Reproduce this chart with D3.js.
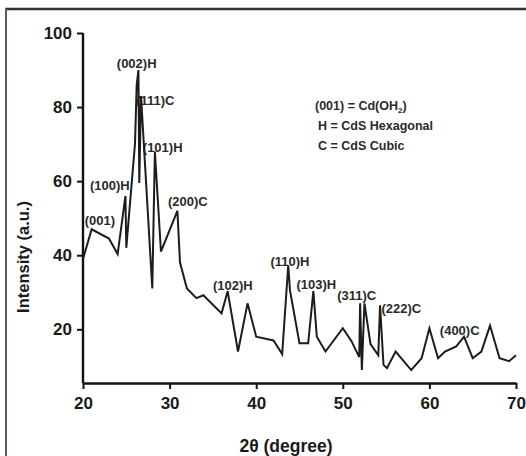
<!DOCTYPE html>
<html>
<head>
<meta charset="utf-8">
<script src="https://cdn.jsdelivr.net/npm/d3@7"></script>
<style>
  html, body { margin: 0; padding: 0; background: #fff; }
  svg { display: block; font-family: "Liberation Sans", Arial, sans-serif; }
</style>
</head>
<body>
<script>
// XRD pattern, 2θ vs intensity
const twoTheta = [20.0, 21.0, 23.0, 24.0, 24.9, 25.0, 26.0, 26.2, 26.4, 26.5, 26.7, 28.0, 28.3, 29.0,
  30.9, 31.2, 32.0, 33.1, 33.9, 36.0, 36.7, 37.9, 39.0, 40.0, 42.0, 43.0, 43.7, 43.9, 45.0, 46.0,
  46.6, 47.0, 48.0, 50.0, 51.0, 51.9, 52.0, 52.2, 52.5, 53.2, 54.1, 54.3, 54.7, 55.1, 56.1, 57.9,
  59.1, 60.0, 61.0, 61.8, 63.1, 64.0, 65.0, 66.0, 67.0, 68.1, 69.2, 70.0]
const intensity = [39, 47, 44.5, 40.3, 56, 42, 70, 86, 90, 59.5, 83, 31, 68, 41,
  52, 38, 31, 28.4, 29.2, 24.3, 30.3, 14, 27, 18, 17, 13.3, 37.3, 30.5, 16.2, 16.2,
  30.3, 18, 14, 20.3, 16.8, 12.5, 27, 9, 27, 16, 13, 26.5, 10.4, 9.5, 14, 9,
  12.2, 20.3, 12.2, 14, 15.4, 18, 12.2, 14, 21, 12.2, 11.4, 13]

// peak labels: text, 2θ, intensity where the label sits
const peakNames = ["(001)", "(100)H", "(002)H", "(111)C", "(101)H", "(200)C", "(102)H", "(110)H", "(103)H", "(311)C", "(222)C", "(400)C"]
const peakX = [21.95, 23.1, 26.2, 28.35, 29.2, 32.1, 37.3, 43.9, 46.95, 51.6, 56.75, 63.5]
const peakY = [49.3, 58.7, 91.9, 81.9, 69.2, 54.4, 31.7, 38.2, 32, 29, 25.5, 19.8]

const xTicks = [20, 30, 40, 50, 60, 70]
const yTicks = [20, 40, 60, 80, 100]

const W = 526, H = 456

const svg = d3.select("body").append("svg")
  .attr("width", W)
  .attr("height", H)

// frame of the figure
svg.append("line")
  .attr("x1", 5).attr("x2", W).attr("y1", 9).attr("y2", 9)
  .attr("stroke", "#333").attr("stroke-width", 2.5)
svg.append("line")
  .attr("x1", 6).attr("x2", 6).attr("y1", 8).attr("y2", H)
  .attr("stroke", "#4f625e").attr("stroke-width", 2)

const x = d3.scaleLinear().domain([20, 70]).range([83, 516])
const y = d3.scaleLinear().domain([5.5, 100]).range([383, 33])

// axes
const xAxis = svg.append("g")
  .attr("transform", "translate(0," + y(5.5) + ")")
  .call(d3.axisBottom(x).tickValues(xTicks).tickSize(6).tickPadding(8).tickSizeOuter(0))
const yAxis = svg.append("g")
  .attr("transform", "translate(" + x(20) + ",0)")
  .call(d3.axisLeft(y).tickValues(yTicks).tickSize(6).tickPadding(5).tickSizeOuter(0))

;[xAxis, yAxis].forEach(ax => {
  ax.select(".domain").attr("stroke", "#111").attr("stroke-width", 2.4)
  ax.selectAll(".tick line").attr("stroke", "#111").attr("stroke-width", 2)
  ax.selectAll(".tick text")
    .attr("fill", "#1a1a1a")
    .style("font-size", "17px")
    .style("font-weight", "bold")
    .style("font-family", "'Liberation Sans', Arial, sans-serif")
})
// y axis runs from 100 down to the x axis
yAxis.select(".domain").attr("d", "M0," + y(100) + "V" + y(5.5))

// axis titles
svg.append("text")
  .attr("transform", "translate(23," + 257 + ") rotate(-90)")
  .attr("text-anchor", "middle")
  .attr("dominant-baseline", "central")
  .style("font-size", "16.5px")
  .style("font-weight", "bold")
  .attr("fill", "#1a1a1a")
  .text("Intensity (a.u.)")

svg.append("text")
  .attr("x", 286)
  .attr("y", 446)
  .attr("text-anchor", "middle")
  .attr("dominant-baseline", "central")
  .style("font-size", "17.5px")
  .style("font-weight", "bold")
  .attr("fill", "#1a1a1a")
  .text("2θ (degree)")

// peak labels (under the line, like the original)
svg.append("g").selectAll("text")
  .data(peakNames)
  .join("text")
  .attr("x", (d, i) => x(peakX[i]))
  .attr("y", (d, i) => y(peakY[i]))
  .attr("text-anchor", "middle")
  .attr("dominant-baseline", "central")
  .style("font-size", "13px")
  .style("font-weight", "bold")
  .attr("fill", "#2a2a2a")
  .text(d => d)

// the pattern
const pts = twoTheta.map((t, i) => [t, intensity[i]])
svg.append("path")
  .datum(pts)
  .attr("fill", "none")
  .attr("stroke", "#1c1c1c")
  .attr("stroke-width", 2)
  .attr("stroke-linejoin", "miter")
  .attr("d", d3.line().x(d => x(d[0])).y(d => y(d[1])))

// phase key
const key = svg.append("g").attr("fill", "#2a2a2a")
  .style("font-size", "12.5px").style("font-weight", "bold")
const k1 = key.append("text").attr("x", 315).attr("y", 106).attr("dominant-baseline", "central")
k1.append("tspan").text("(001) = Cd(OH")
k1.append("tspan").attr("dy", 4).style("font-size", "8px").text("2")
k1.append("tspan").attr("dy", -4).text(")")
key.append("text").attr("x", 318).attr("y", 126).attr("dominant-baseline", "central").text("H = CdS Hexagonal")
key.append("text").attr("x", 318).attr("y", 146).attr("dominant-baseline", "central").text("C = CdS Cubic")
</script>
</body>
</html>
